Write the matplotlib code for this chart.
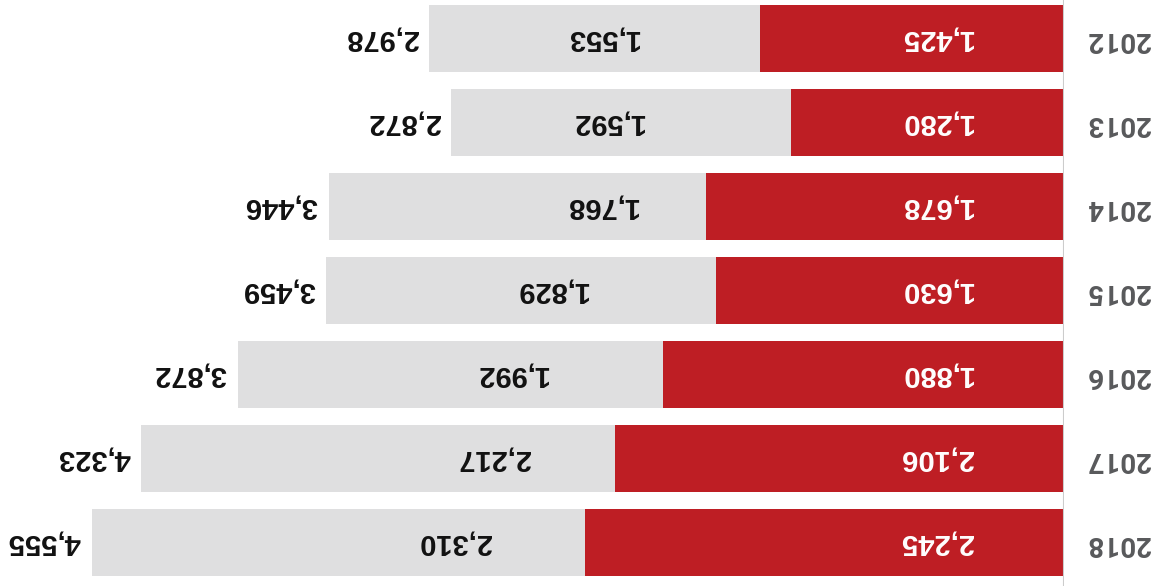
import matplotlib
matplotlib.use("Agg")
import matplotlib.pyplot as plt

years = ["2012", "2013", "2014", "2015", "2016", "2017", "2018"]
red_vals = [1425, 1280, 1678, 1630, 1880, 2106, 2245]
gray_vals = [1553, 1592, 1768, 1829, 1992, 2217, 2310]
totals = [2978, 2872, 3446, 3459, 3872, 4323, 4555]

# label nudges (pixels, toward the axis) for the grey-segment labels
gray_nudge_px = [8, -13, 84, 31, 62, 116, 116]

RED = "#be1e24"
GRAY = "#dfdfe0"
PX2PT = 72 / 100

fig = plt.figure(figsize=(11.55, 5.86), dpi=100)
ax = fig.add_axes([0, 0, 1064 / 1155, 1])
ypos = list(range(len(years)))
ax.barh(ypos, red_vals, height=0.8, color=RED)
ax.barh(ypos, gray_vals, left=red_vals, height=0.8, color=GRAY)
ax.set_xlim(4986, 0)
ax.set_ylim(6.518, -0.458)
ax.axvline(0, color="#cccccc", lw=1.5)
for s in ax.spines.values():
    s.set_visible(False)
ax.set_xticks([])
ax.set_yticks([])

fam = ["Liberation Sans", "DejaVu Sans"]
fs = 21
for i in ypos:
    r, g, t = red_vals[i], gray_vals[i], totals[i]
    ax.annotate(f"{r:,}", xy=(0, i), xytext=(-91 * PX2PT, 0),
                textcoords="offset points", rotation=180, ha="right",
                va="center", color="white", fontsize=fs, fontweight="bold",
                family=fam)
    ax.annotate(f"{g:,}", xy=(r + g / 2, i),
                xytext=(gray_nudge_px[i] * PX2PT, 0),
                textcoords="offset points", rotation=180, ha="center",
                va="center", color="#111111", fontsize=fs, fontweight="bold",
                family=fam)
    ax.annotate(f"{t:,}", xy=(t, i), xytext=(-11 * PX2PT, 0),
                textcoords="offset points", rotation=180, ha="right",
                va="center", color="#111111", fontsize=fs, fontweight="bold",
                family=fam)
    fig.text(1118 / 1155, 1 - (39.5 + 84 * i) / 586, years[i], rotation=180,
             ha="center", va="center", color="#58595b", fontsize=20,
             fontweight="bold", family=["Roboto", "DejaVu Sans"])

fig.savefig("out.png", dpi=100)
